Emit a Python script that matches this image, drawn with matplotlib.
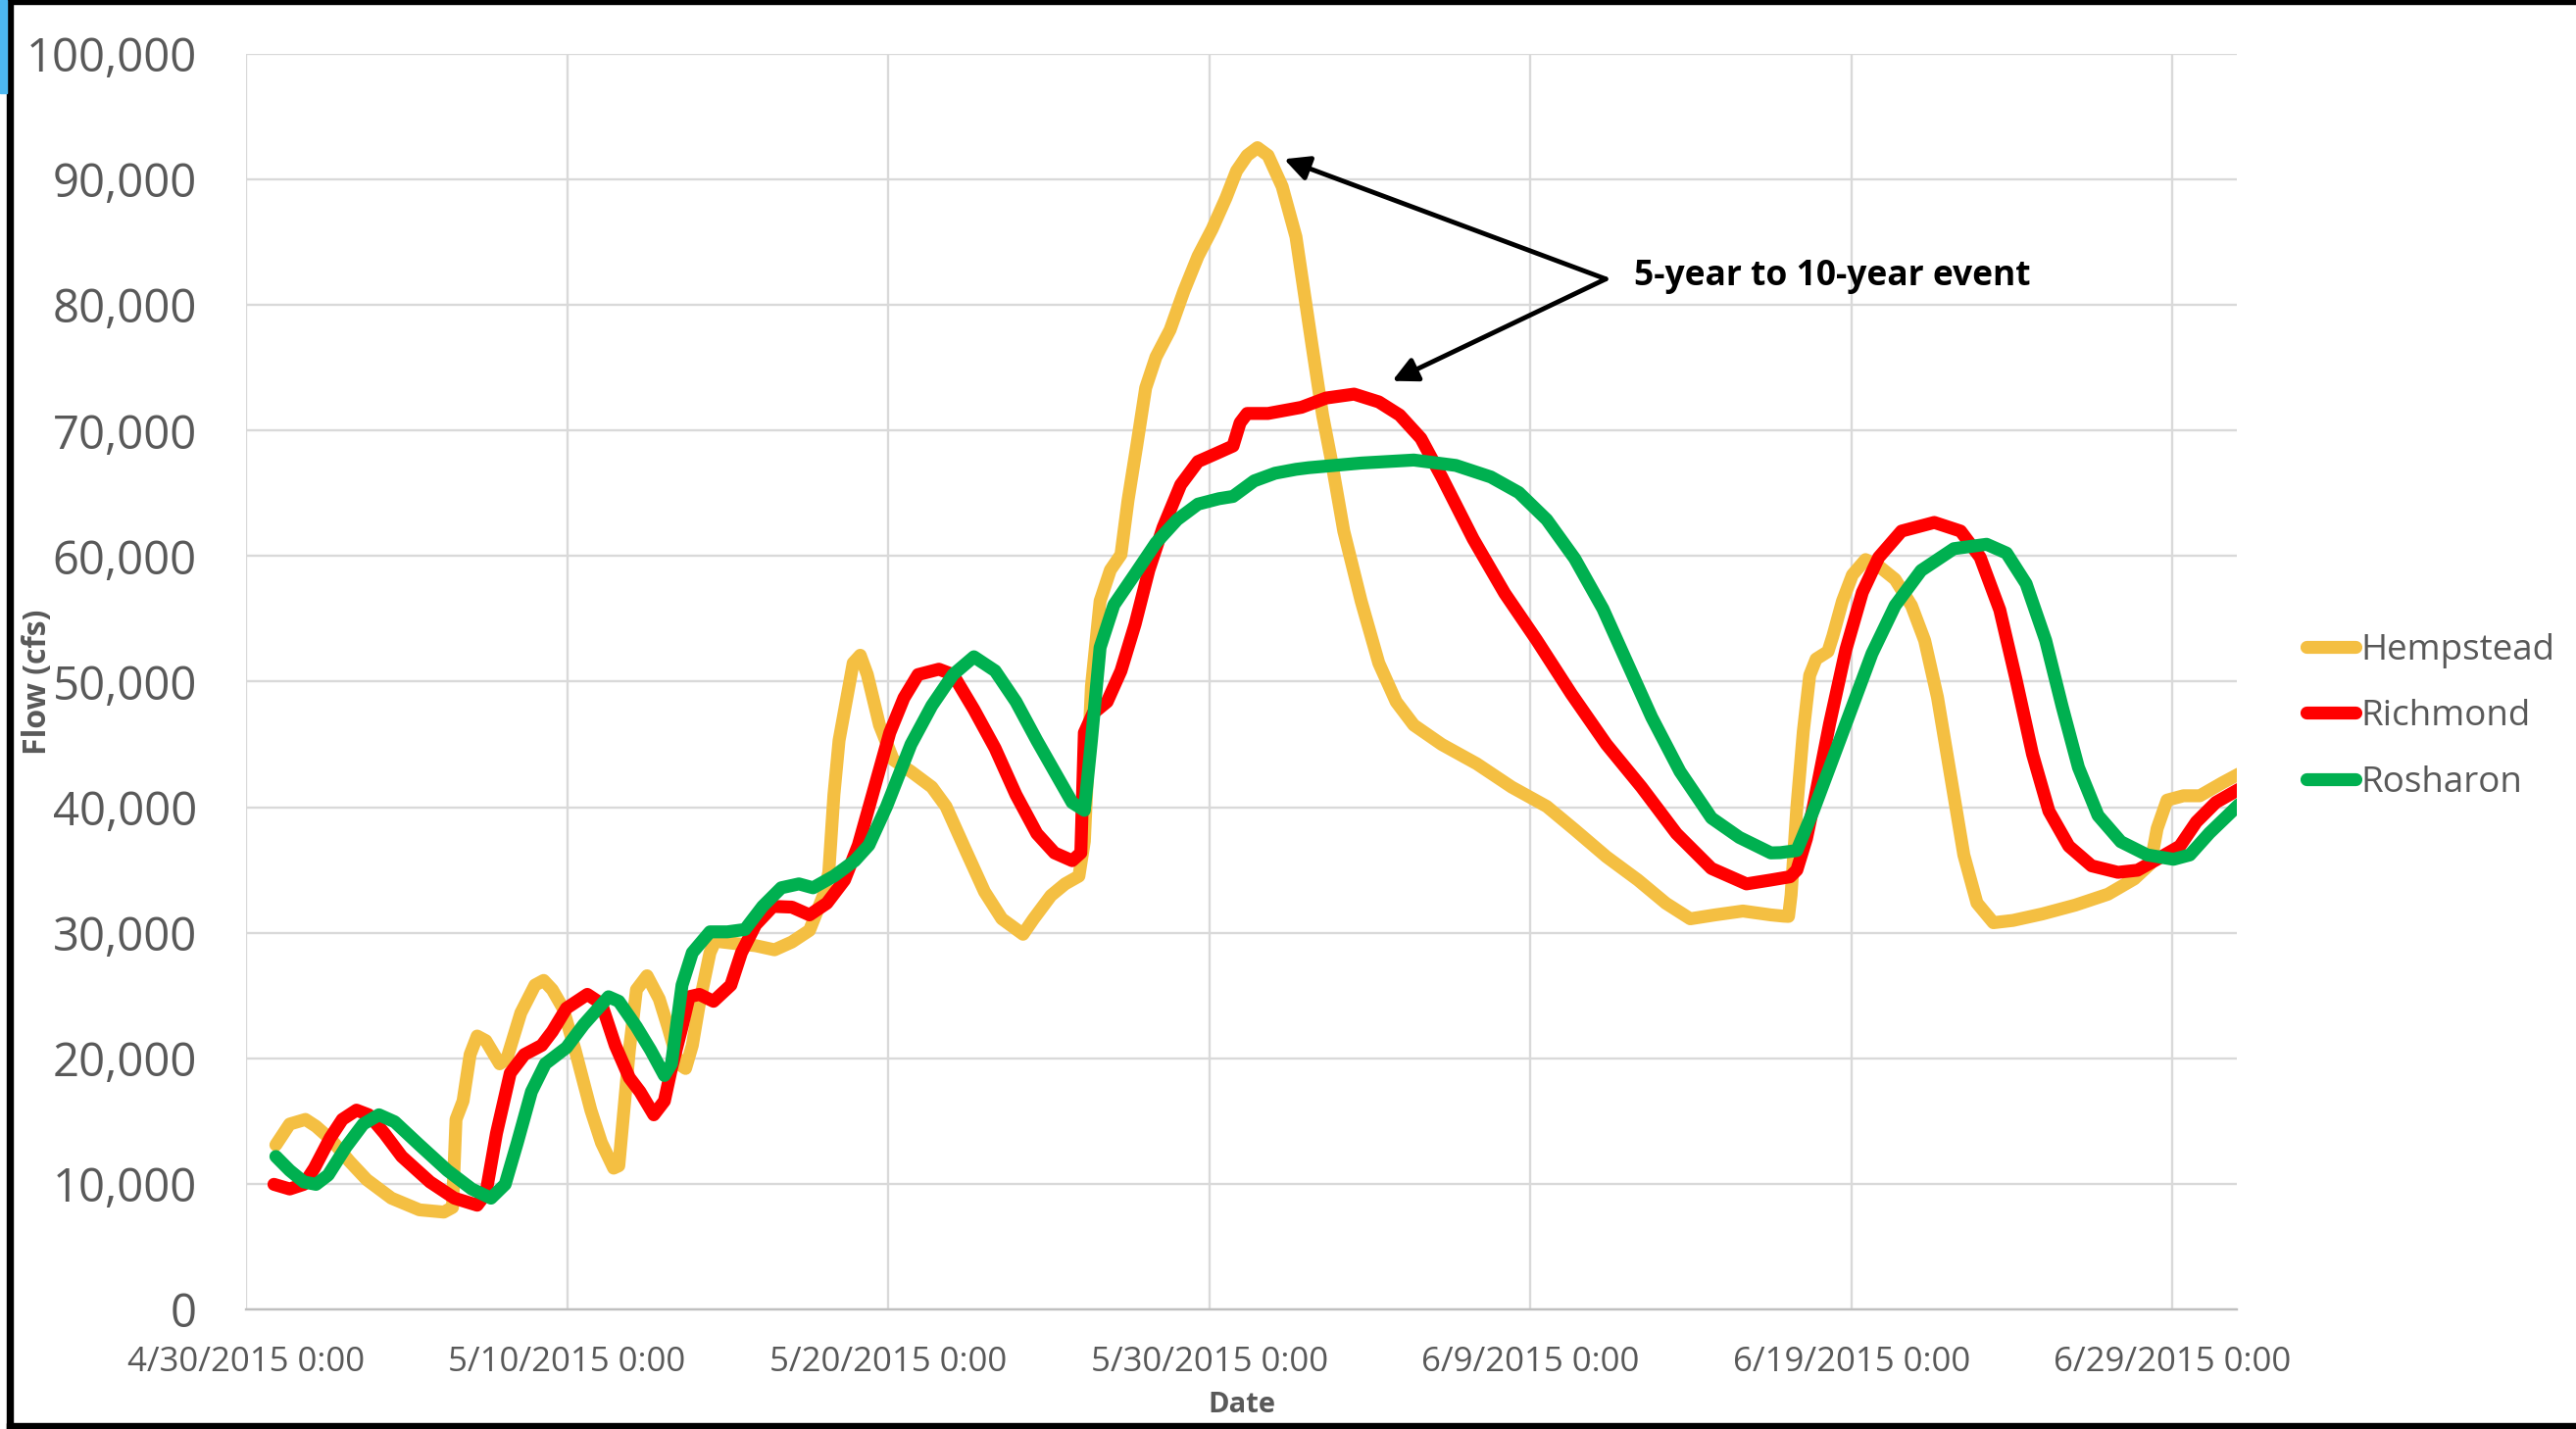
import pandas as pd
import matplotlib.pyplot as plt
from matplotlib.patches import Rectangle
from matplotlib.ticker import FuncFormatter

# days after 4/30/2015 0:00, flow in cfs
hemp_day = [0.93, 1.36, 1.85, 2.18, 2.67, 3.22, 3.76, 4.53, 5.40, 6.16, 6.43, 6.54, 6.76, 6.98, 7.20,
            7.47, 7.90, 8.12, 8.56, 9.00, 9.27, 9.54, 9.87, 10.25, 10.74, 11.07, 11.45, 11.61, 11.94,
            12.16, 12.49, 12.87, 13.14, 13.47, 13.69, 13.90, 14.12, 14.45, 14.61, 15.21, 15.87, 16.46,
            17.00, 17.55, 17.98, 18.15, 18.31, 18.47, 18.69, 18.91, 19.13, 19.35, 19.73, 20.16, 20.71,
            21.36, 21.80, 22.45, 23.00, 23.54, 24.20, 24.53, 25.07, 25.51, 25.94, 26.11, 26.33, 26.60,
            26.92, 27.25, 27.47, 27.74, 28.02, 28.34, 28.78, 29.21, 29.65, 30.09, 30.52, 30.85, 31.18,
            31.50, 31.83, 32.27, 32.70, 33.20, 33.53, 33.81, 34.19, 34.73, 35.28, 35.82, 36.37, 37.24,
            38.33, 39.42, 40.51, 41.38, 42.37, 43.35, 44.22, 44.98, 45.75, 46.62, 47.49, 47.89, 48.04,
            48.12, 48.30, 48.50, 48.70, 48.90, 49.27, 49.42, 49.72, 50.03, 50.44, 50.85, 51.36, 51.87,
            52.28, 52.68, 53.09, 53.50, 53.91, 54.42, 55.03, 55.95, 56.97, 57.99, 58.81, 59.32, 59.52,
            59.83, 60.34, 60.85, 61.56, 62.07]
hemp_flow = [13100, 14760, 15130, 14580, 13470, 11800, 10330, 8860, 7930, 7750, 8120, 15130, 16600,
             20300, 21770, 21400, 19560, 19930, 23620, 25830, 26200, 25460, 24000, 20660, 15870, 13280,
             11250, 11440, 20660, 25460, 26570, 24720, 22500, 19560, 19190, 21030, 24350, 28410, 29330,
             29150, 28970, 28640, 29260, 30190, 32960, 34810, 40990, 45310, 48400, 51480, 52100, 50560,
             46540, 43770, 42840, 41600, 40060, 36360, 33270, 31110, 29880, 31110, 32960, 33890, 34510,
             37280, 49630, 56420, 58890, 60120, 64440, 68770, 73400, 75860, 78020, 81110, 83890, 86050,
             88520, 90680, 91910, 92530, 91910, 89440, 85430, 76790, 71230, 67530, 61980, 56420, 51480,
             48400, 46540, 45000, 43460, 41600, 40060, 38210, 36050, 34200, 32350, 31110, 31420, 31730,
             31420, 31320, 31300, 33000, 40000, 46000, 50500, 51800, 52400, 53620, 56410, 58500, 59720,
             59200, 58150, 56060, 53280, 48750, 42470, 36200, 32370, 30800, 30980, 31500, 32200, 33070,
             34290, 35510, 38290, 40560, 40910, 40910, 41950, 42650]

rich_day = [0.87, 1.36, 1.80, 2.13, 2.62, 3.00, 3.44, 3.82, 4.31, 4.85, 5.73, 6.49, 7.20, 7.47, 7.80,
            8.23, 8.67, 9.21, 9.54, 9.98, 10.63, 11.07, 11.50, 11.94, 12.27, 12.70, 13.03, 13.25, 13.58,
            13.80, 14.12, 14.56, 15.10, 15.43, 15.87, 16.41, 17.00, 17.55, 18.09, 18.64, 19.07, 19.51,
            20.05, 20.49, 20.93, 21.58, 22.02, 22.67, 23.33, 23.98, 24.63, 25.18, 25.73, 26.00, 26.11,
            26.38, 26.82, 27.25, 27.69, 28.12, 28.56, 29.11, 29.65, 30.20, 30.74, 30.96, 31.18, 31.83,
            32.49, 32.87, 33.64, 34.51, 35.28, 35.93, 36.59, 37.24, 38.22, 39.20, 40.19, 41.28, 42.37,
            43.46, 44.55, 45.64, 46.73, 47.49, 48.09, 48.30, 48.60, 48.81, 49.32, 49.83, 50.34, 50.85,
            51.56, 52.58, 53.40, 54.01, 54.62, 55.13, 55.64, 56.15, 56.77, 57.48, 58.30, 58.91, 59.52,
            60.23, 60.74, 61.35, 62.07]
rich_flow = [9960, 9590, 9960, 11250, 13650, 15130, 15870, 15500, 14020, 12180, 10150, 8860, 8300,
             9220, 14020, 18820, 20300, 21030, 22140, 23990, 25090, 24350, 21030, 18450, 17340, 15500,
             16600, 19190, 22500, 24900, 25090, 24540, 25830, 28410, 30630, 32100, 32040, 31420, 32350,
             34200, 36980, 40990, 45930, 48700, 50560, 50990, 50560, 47780, 44690, 40990, 37900, 36360,
             35740, 36360, 45930, 47470, 48400, 50860, 54570, 58890, 62280, 65680, 67530, 68150, 68770,
             70620, 71360, 71360, 71670, 71850, 72590, 72900, 72280, 71230, 69380, 66300, 61360, 57040,
             53330, 49010, 45000, 41600, 37900, 35120, 33890, 34200, 34460, 35000, 37500, 40030, 46650,
             52580, 57110, 59900, 61990, 62680, 61990, 59900, 55710, 50140, 44220, 39690, 36900, 35330,
             34810, 34980, 35850, 36900, 38820, 40380, 41430]

rosh_day = [0.93, 1.36, 1.80, 2.18, 2.56, 3.11, 3.65, 4.14, 4.63, 5.40, 6.27, 7.03, 7.63, 8.07, 8.45,
            8.89, 9.32, 9.98, 10.52, 11.29, 11.61, 12.16, 12.60, 13.03, 13.25, 13.58, 13.90, 14.45,
            14.99, 15.54, 16.09, 16.67, 17.22, 17.66, 18.31, 18.96, 19.40, 19.95, 20.71, 21.36, 22.02,
            22.67, 23.33, 23.98, 24.63, 25.18, 25.73, 26.11, 26.33, 26.60, 27.03, 27.69, 28.34, 29.00,
            29.65, 30.30, 30.74, 31.40, 32.05, 32.70, 33.10, 34.73, 36.37, 37.68, 38.77, 39.64, 40.51,
            41.38, 42.26, 42.91, 43.78, 44.66, 45.64, 46.51, 47.49, 47.79, 48.30, 48.81, 49.32, 49.93,
            50.64, 51.36, 52.17, 53.19, 54.21, 54.83, 55.44, 56.05, 56.56, 57.07, 57.68, 58.39, 59.21,
            60.03, 60.54, 61.15, 62.07]
rosh_flow = [12180, 11070, 10150, 9960, 10700, 12920, 14760, 15500, 14940, 13100, 11070, 9590, 8860,
             9960, 13280, 17340, 19560, 20850, 22690, 24900, 24540, 22510, 20660, 18630, 19560, 25830,
             28410, 30070, 30070, 30260, 32100, 33580, 33890, 33580, 34510, 35740, 36980, 40060, 45000,
             48090, 50560, 51980, 50860, 48400, 45310, 42840, 40370, 39750, 45310, 52720, 56110, 58580,
             61050, 62900, 64140, 64570, 64750, 65990, 66600, 66910, 67040, 67410, 67650, 67220, 66300,
             65060, 62900, 59810, 55800, 52100, 47160, 42840, 39140, 37590, 36360, 36380, 36550, 39690,
             43170, 47350, 52230, 56060, 58850, 60590, 60940, 60240, 57800, 53280, 48050, 43170, 39340,
             37250, 36200, 35850, 36200, 37940, 40210]

series_names = ['Hempstead', 'Richmond', 'Rosharon']
series_colors = ['#F4BF42', '#FF0000', '#00B050']
tick_dates = ['2015-04-30', '2015-05-10', '2015-05-20', '2015-05-30', '2015-06-09', '2015-06-19', '2015-06-29']
tick_labels = ['4/30/2015 0:00', '5/10/2015 0:00', '5/20/2015 0:00', '5/30/2015 0:00',
               '6/9/2015 0:00', '6/19/2015 0:00', '6/29/2015 0:00']
note_text = '5-year to 10-year event'


def main():
	plt.rcParams['font.family'] = ['Open Sans', 'DejaVu Sans']
	start = pd.Timestamp('2015-04-30')

	def to_dates(days):
		return start + pd.to_timedelta(days, unit='D')

	fig = plt.figure(figsize=(26.28, 14.58), dpi=100)
	ax = fig.add_axes([0.0955, 0.0837, 0.7728, 0.8786])

	series = [(hemp_day, hemp_flow), (rich_day, rich_flow), (rosh_day, rosh_flow)]
	for (d, f), name, col in zip(series, series_names, series_colors):
		ax.plot(to_dates(d), f, color=col, lw=9.5, label=name,
				solid_capstyle='round', solid_joinstyle='round')

	ax.set_xlim(start, start + pd.Timedelta(days=62))
	ax.set_ylim(0, 100000)
	ax.set_yticks(range(0, 100001, 10000))
	ax.yaxis.set_major_formatter(FuncFormatter(lambda v, p: '{:,.0f}'.format(v)))
	ax.set_xticks(pd.to_datetime(tick_dates))
	ax.set_xticklabels(tick_labels)

	ax.grid(True, color='#D9D9D9', lw=1.7)
	ax.set_axisbelow(True)
	for s in ['top', 'right', 'left']:
		ax.spines[s].set_visible(False)
	ax.spines['bottom'].set_color('#BFBFBF')
	ax.spines['bottom'].set_linewidth(1.7)
	ax.tick_params(axis='y', length=0, pad=36, labelsize=34, labelcolor='#595959')
	ax.tick_params(axis='x', length=0, pad=27, labelsize=25, labelcolor='#595959')

	ax.set_xlabel('Date', fontsize=21, fontweight='bold', color='#595959', labelpad=8)
	fig.text(0.0145, 0.523, 'Flow (cfs)', rotation=90, fontsize=23, fontweight='bold',
			 color='#595959', ha='center', va='center')

	# annotation arrows
	tail = (start + pd.Timedelta(days=42.35), 82070)
	ax.annotate('', xy=(start + pd.Timedelta(days=32.33), 91620), xytext=tail,
				arrowprops=dict(arrowstyle='-|>', lw=3.5, color='black', mutation_scale=38,
								shrinkA=0, shrinkB=0))
	ax.annotate('', xy=(start + pd.Timedelta(days=35.70), 73950), xytext=tail,
				arrowprops=dict(arrowstyle='-|>', lw=3.5, color='black', mutation_scale=38,
								shrinkA=0, shrinkB=0))
	ax.text(start + pd.Timedelta(days=43.22), 82300, note_text, fontsize=25.5, fontweight='bold',
			color='black', ha='left', va='center')

	fig.legend(loc='center left', bbox_to_anchor=(0.8954, 0.4985), frameon=False, fontsize=26.5,
			   handlelength=1.36, handletextpad=0.15, labelspacing=0.86, borderpad=0,
			   borderaxespad=0, labelcolor='#595959')

	# picture frame
	fig.add_artist(Rectangle((0.0027, 0), 0.0023, 1, transform=fig.transFigure, color='black'))
	fig.add_artist(Rectangle((0.0027, 0.9973), 0.9973, 0.0027, transform=fig.transFigure, color='black'))
	fig.add_artist(Rectangle((0.0027, 0), 0.9973, 0.0041, transform=fig.transFigure, color='black'))
	fig.add_artist(Rectangle((0, 0.935), 0.0027, 0.065, transform=fig.transFigure, color='#4DB8F0'))

	fig.savefig('out.png', dpi=100)


if __name__ == '__main__':
	main()
